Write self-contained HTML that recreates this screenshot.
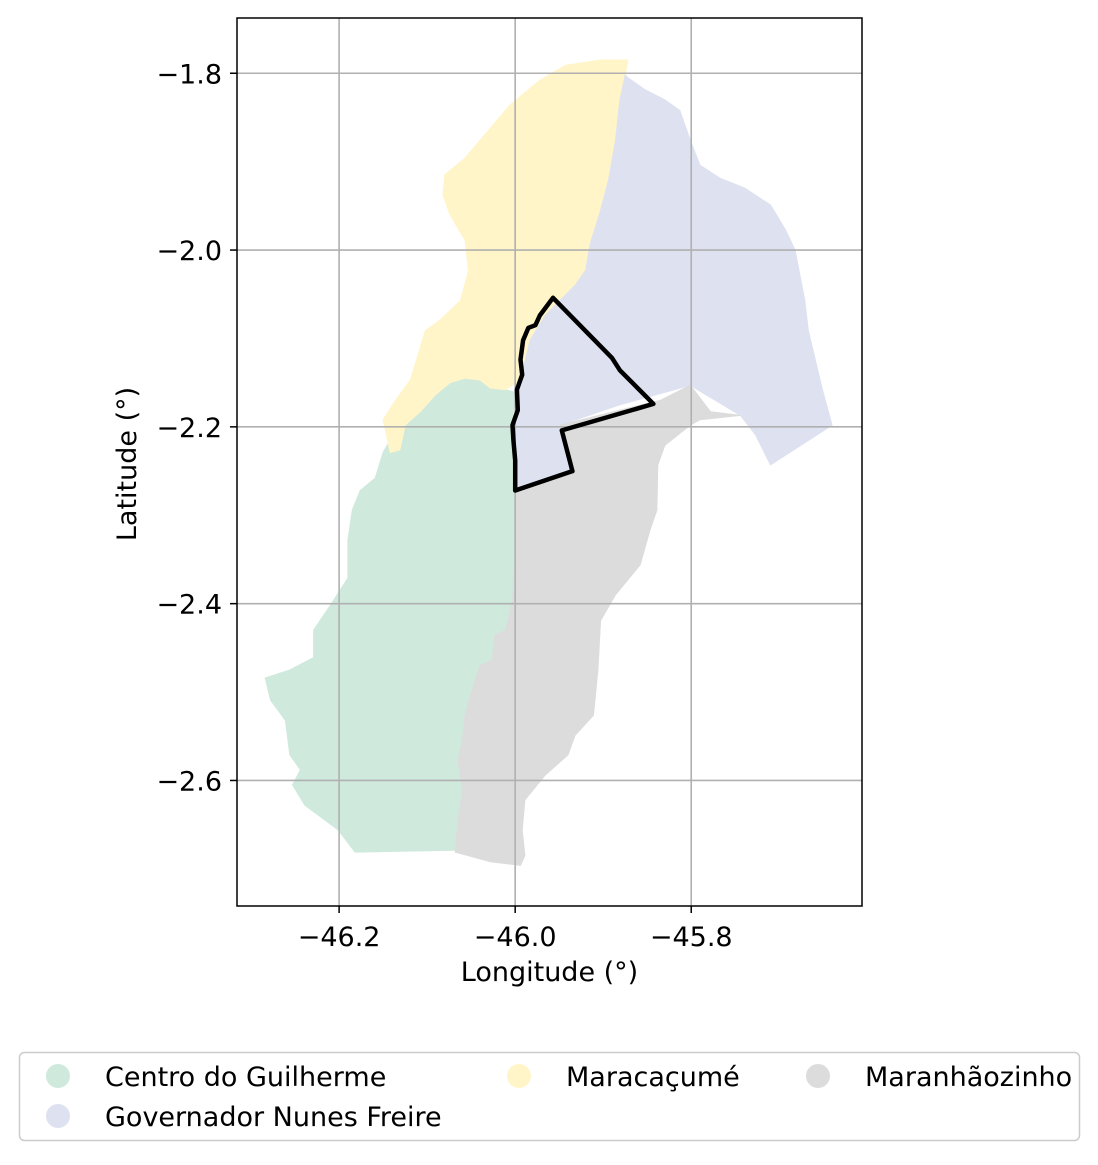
<!DOCTYPE html>
<html><head><meta charset="utf-8"><style>
html,body{margin:0;padding:0;background:#fff;}
svg text{font-family:"DejaVu Sans","Liberation Sans",sans-serif;fill:#000;}
</style></head><body>
<svg id="chart" width="1098" height="1160" xmlns="http://www.w3.org/2000/svg"></svg>
<script>
const regionNames = ["Centro do Guilherme","Governador Nunes Freire","Maracaçumé","Maranhãozinho"];
const regionColors = ["#cfeadd","#dee2f0","#fff5c8","#dcdcdc"];
const xTicks = [-46.2,-46.0,-45.8];
const yTicks = [-1.8,-2.0,-2.2,-2.4,-2.6];
const xTickLabels = ["\u221246.2","\u221246.0","\u221245.8"];
const yTickLabels = ["\u22121.8","\u22122.0","\u22122.2","\u22122.4","\u22122.6"];
const greenLon = [-46.150,-46.142,-46.125,-46.108,-46.091,-46.074,-46.057,-46.040,-46.028,-46.011,-46.000,-46.003,-46.003,-46.000,-46.000,-46.003,-46.011,-46.023,-46.026,-46.040,-46.049,-46.057,-46.060,-46.065,-46.060,-46.065,-46.068,-46.182,-46.201,-46.239,-46.253,-46.244,-46.256,-46.261,-46.278,-46.284,-46.256,-46.229,-46.229,-46.210,-46.190,-46.190,-46.185,-46.176,-46.159];
const greenLat = [-2.229,-2.215,-2.198,-2.183,-2.164,-2.150,-2.145,-2.147,-2.156,-2.158,-2.161,-2.192,-2.238,-2.306,-2.351,-2.396,-2.430,-2.436,-2.464,-2.470,-2.498,-2.526,-2.554,-2.577,-2.611,-2.645,-2.679,-2.681,-2.656,-2.628,-2.605,-2.588,-2.571,-2.532,-2.509,-2.484,-2.475,-2.461,-2.430,-2.402,-2.371,-2.328,-2.294,-2.272,-2.258];
const yellowLon = [-46.150,-46.136,-46.119,-46.102,-46.085,-46.062,-46.053,-46.057,-46.074,-46.082,-46.080,-46.057,-46.006,-45.972,-45.943,-45.903,-45.872,-45.875,-45.881,-45.886,-45.894,-45.903,-45.915,-45.920,-45.932,-45.949,-45.966,-45.983,-45.994,-46.011,-46.028,-46.040,-46.057,-46.074,-46.091,-46.108,-46.125,-46.131,-46.142,-46.145];
const yellowLat = [-2.192,-2.170,-2.147,-2.091,-2.079,-2.057,-2.023,-1.989,-1.960,-1.938,-1.915,-1.896,-1.836,-1.808,-1.791,-1.785,-1.785,-1.802,-1.830,-1.876,-1.921,-1.955,-1.994,-2.023,-2.040,-2.057,-2.074,-2.102,-2.147,-2.158,-2.156,-2.147,-2.145,-2.150,-2.164,-2.183,-2.198,-2.226,-2.229,-2.215];
const blueLon = [-45.872,-45.852,-45.830,-45.813,-45.801,-45.790,-45.767,-45.739,-45.710,-45.693,-45.682,-45.671,-45.667,-45.659,-45.651,-45.640,-45.710,-45.727,-45.744,-45.801,-45.881,-45.949,-45.932,-46.000,-46.000,-45.994,-45.983,-45.966,-45.949,-45.932,-45.920,-45.915,-45.903,-45.894,-45.886,-45.881,-45.875];
const blueLat = [-1.805,-1.819,-1.830,-1.842,-1.876,-1.904,-1.919,-1.930,-1.949,-1.977,-2.000,-2.057,-2.091,-2.124,-2.158,-2.198,-2.243,-2.209,-2.187,-2.153,-2.175,-2.198,-2.249,-2.272,-2.164,-2.147,-2.102,-2.074,-2.057,-2.040,-2.023,-1.994,-1.955,-1.921,-1.876,-1.830,-1.802];
const grayLon = [-46.000,-45.932,-45.949,-45.881,-45.835,-45.801,-45.778,-45.744,-45.790,-45.801,-45.830,-45.838,-45.839,-45.847,-45.858,-45.886,-45.903,-45.906,-45.911,-45.932,-45.940,-45.966,-45.989,-45.992,-45.989,-45.994,-46.028,-46.068,-46.065,-46.060,-46.065,-46.060,-46.057,-46.049,-46.040,-46.026,-46.023,-46.011,-46.003,-46.000];
const grayLat = [-2.272,-2.249,-2.198,-2.181,-2.170,-2.153,-2.183,-2.187,-2.192,-2.198,-2.221,-2.243,-2.294,-2.317,-2.356,-2.390,-2.419,-2.475,-2.526,-2.549,-2.571,-2.594,-2.622,-2.656,-2.685,-2.696,-2.692,-2.681,-2.645,-2.611,-2.577,-2.554,-2.526,-2.498,-2.470,-2.464,-2.436,-2.430,-2.396,-2.351];
const outlineLon = [-45.957,-45.972,-45.977,-45.985,-45.991,-45.994,-45.992,-45.998,-45.997,-46.003,-46.002,-46.000,-46.000,-45.935,-45.947,-45.843,-45.864,-45.881,-45.890];
const outlineLat = [-2.054,-2.074,-2.085,-2.088,-2.102,-2.124,-2.141,-2.158,-2.181,-2.198,-2.215,-2.238,-2.272,-2.250,-2.204,-2.174,-2.153,-2.136,-2.122];

const NS="http://www.w3.org/2000/svg";
const svg=document.getElementById('chart');
const L=237,R=862,T=18,B=906;
const FS=27;
const lonMin=-46.316,lonMax=-45.606,latMax=-1.7375,latMin=-2.742;
function sx(v){return L+(v-lonMin)/(lonMax-lonMin)*(R-L);}
function sy(v){return T+(latMax-v)/(latMax-latMin)*(B-T);}
function mk(tag,attrs,parent){const e=document.createElementNS(NS,tag);for(const k in attrs)e.setAttribute(k,attrs[k]);(parent||svg).appendChild(e);return e;}
function pts(lons,lats){return lons.map((v,i)=>sx(v).toFixed(1)+","+sy(lats[i]).toFixed(1)).join(" ");}

const clip=mk('clipPath',{id:'pc'},mk('defs',{}));
mk('rect',{x:L,y:T,width:R-L,height:B-T},clip);
const g=mk('g',{'clip-path':'url(#pc)'});



const polys=[[greenLon,greenLat,0,'centro-do-guilherme-region'],[yellowLon,yellowLat,2,'maracacume-region'],[blueLon,blueLat,1,'governador-nunes-freire-region'],[grayLon,grayLat,3,'maranhaozinho-region']];
polys.forEach(p=>{
  const e=mk('polygon',{points:pts(p[0],p[1]),fill:regionColors[p[2]],stroke:regionColors[p[2]],'stroke-width':1},g);
  
  
});
xTicks.forEach((v,i)=>{
  const l=mk('line',{x1:sx(v),x2:sx(v),y1:T,y2:B,stroke:'#b0b0b0','stroke-width':1.6},g);
  
  
});
yTicks.forEach((v,i)=>{
  const l=mk('line',{x1:L,x2:R,y1:sy(v),y2:sy(v),stroke:'#b0b0b0','stroke-width':1.6},g);
  
  
});
const ol=mk('polygon',{points:pts(outlineLon,outlineLat),fill:'none',stroke:'#000','stroke-width':4.5,'stroke-linejoin':'round'},g);



const frame=mk('rect',{x:L,y:T,width:R-L,height:B-T,fill:'none',stroke:'#000','stroke-width':1.5});



xTicks.forEach((v,i)=>{
  const t=mk('line',{x1:sx(v),x2:sx(v),y1:B,y2:B+7,stroke:'#000','stroke-width':1.5});
  
  
  const tx=mk('text',{x:sx(v),y:B+40,'text-anchor':'middle','font-size':FS});
  tx.textContent=xTickLabels[i];
  
  
});
yTicks.forEach((v,i)=>{
  const t=mk('line',{x1:L-7,x2:L,y1:sy(v),y2:sy(v),stroke:'#000','stroke-width':1.5});
  
  
  const tx=mk('text',{x:L-15,y:sy(v)+10,'text-anchor':'end','font-size':FS});
  tx.textContent=yTickLabels[i];
  
  
});
const xt=mk('text',{x:(L+R)/2,y:981,'text-anchor':'middle','font-size':FS});
xt.textContent='Longitude (°)';


const yt=mk('text',{x:0,y:0,'text-anchor':'middle','font-size':FS,transform:'translate(136,464) rotate(-90)'});
yt.textContent='Latitude (°)';



const lg=mk('g',{});


mk('rect',{x:19.5,y:1052.5,width:1060,height:88,rx:5,fill:'#fff',stroke:'#ccc','stroke-width':1.5},lg);
const legPos=[[58,1076],[58,1116],[519,1076],[818,1076]];
regionNames.forEach((n,i)=>{
  const c=mk('circle',{cx:legPos[i][0],cy:legPos[i][1],r:12,fill:regionColors[i]},lg);
  
  
  const t=mk('text',{x:legPos[i][0]+47,y:legPos[i][1]+10,'font-size':FS},lg);
  t.textContent=n;
  
  
});
</script>
</body></html>
